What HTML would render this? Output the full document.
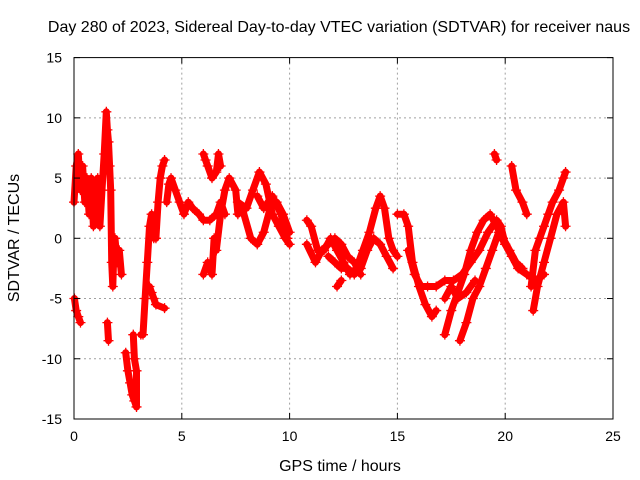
<!DOCTYPE html>
<html><head><meta charset="utf-8"><style>
body{margin:0;background:#fff;}
svg{display:block;font-family:"Liberation Sans",sans-serif;}
</style></head><body>
<svg id="chart" width="640" height="480">
<text x="339" y="32" font-size="16" text-anchor="middle">Day 280 of 2023, Sidereal Day-to-day VTEC variation (SDTVAR) for receiver naus</text>
<text x="340" y="471" font-size="16" text-anchor="middle">GPS time / hours</text>
<text transform="translate(19,238) rotate(-90)" font-size="16" text-anchor="middle">SDTVAR / TECUs</text>
<g id="grid"></g><g id="marks"></g><g id="axes"></g>
</svg>
<script>
const xTicks=[0,5,10,15,20,25];
const yTicks=[-15,-10,-5,0,5,10,15];
const traceHours=[
 [0,0.1,0.2,0.3,0.4,0.5,0.6,0.7,0.8,0.9,1.0,1.1,1.2,1.3,1.4,1.5,1.55,1.6,1.65,1.7,1.75,1.8,1.85,1.9,2.0,2.1,2.2],
 [0.02,0.1,0.2,0.3],
 [1.55,1.6],
 [2.4,2.5,2.6,2.7,2.8,2.9,2.9,2.8,2.75],
 [3.1,3.2,3.3,3.4,3.5,3.6,3.7,3.8,3.9,4.0,4.1,4.2],
 [3.5,3.6,3.7,3.8,4.2],
 [4.3,4.4,4.5,4.7,4.9,5.1,5.3,5.5,5.8,6.0,6.3,6.6,6.8,7.0],
 [6.0,6.1,6.2,6.4,6.6,6.7,6.8],
 [6.0,6.2,6.4,6.5,6.6,6.8,7.0,7.2,7.5,7.6],
 [7.6,8.0,8.3,8.6,8.9,9.2,9.5,9.8,10.0],
 [7.8,8.2,8.5,8.8,9.1,9.4,9.7,10.0],
 [8.5,8.8,9.2,9.6,9.9],
 [10.8,11.0,11.3,11.6,11.9,12.2,12.5,12.8,13.1,13.4,13.7,14.0,14.2,14.4,14.6,14.8,15.0],
 [11.8,12.1,12.4,12.7,13.0,13.3,13.6,13.9,14.2,14.5,14.8],
 [10.8,11.2,11.5,11.8,12.1,12.4,12.7,13.0,13.3],
 [12.2,12.4],
 [15.0,15.3,15.5,15.7,16.0,16.3,16.6,16.8],
 [15.5,15.8,16.1,16.4,16.8,17.2,17.6,18.0,18.4,18.8,19.2,19.6,19.8,20.0],
 [17.2,17.5,17.8,18.1,18.4,18.7,19.0,19.3,19.6,19.9,20.2,20.5,20.8],
 [17.9,18.2,18.5,18.8,19.1,19.4,19.7,20.0,20.3,20.6,21.0,21.4,21.8],
 [17.2,17.5,17.8,18.2,18.6],
 [19.5,19.6],
 [20.3,20.5,20.8,21.0],
 [21.2,21.4,21.6,21.8,22.0,22.2,22.5,22.7,22.8],
 [21.3,21.5,21.8,22.1,22.4,22.7,22.8]
];
const traceValues=[
 [3,6,7,4,6,3,5,2,5,1,3,5,1,4,7,10.5,9,8,6,4,-2,-4,-1,0,-2,-1,-3],
 [-5,-6,-6.5,-7],
 [-7,-8.5],
 [-9.5,-11,-12,-13,-13.5,-14,-11,-10,-8],
 [-8,-8,-5,-2,1,2,0,0,3,5,6,6.5],
 [-4,-4.5,-5,-5.5,-5.8],
 [3,4.5,5,4,3,2,3,2.5,2,1.5,1.5,2,3,2],
 [7,6.5,6,5,5.5,7,6],
 [-3,-2,-3,0,-1,2,4,5,4,2],
 [3,2.5,4,5.5,4.5,2,1,0,-0.5],
 [2.5,0,-0.5,0.5,2.5,3,2,0.5],
 [3.5,2.5,3.5,2,0],
 [1.5,1,-1,-1,0,-1,-2,-3,-2.5,-1,0.5,2.5,3.5,2.5,0,-1,-1.5],
 [-1.5,-2,-2.5,-2.5,-3,-2.5,-1,0,-0.5,-1.5,-2.5],
 [-0.5,-2,-1,-0.5,0,-0.5,-1.5,-2,-3],
 [-4,-3.5],
 [2,2,1,-2,-4,-5.5,-6.5,-6],
 [-1,-3,-4,-4,-4,-3.5,-3.5,-3,-2,-1,0.5,1.5,1,-0.5],
 [-8,-6,-4.5,-3,-1,0.5,1.5,2,1,0,-1,-2,-2.5],
 [-8.5,-7,-5,-4,-2.5,-1,0.5,-0.5,-1.5,-2.5,-3,-3.5,-3],
 [-5,-4,-5,-4.5,-3.5],
 [7,6.5],
 [6,4,3,2],
 [-4,-1,0,1,2,3,4,5,5.5],
 [-6,-4,-2,0,2,3,1]
];
const L=74,R=613,T=57.6,B=419;
const xS=h=>L+h*(R-L)/25;
const yS=v=>238.3-v*(B-T)/30;
const NS="http://www.w3.org/2000/svg";
const grid=document.getElementById('grid'),marks=document.getElementById('marks'),axes=document.getElementById('axes');
function mk(tag,attrs,parent){const e=document.createElementNS(NS,tag);for(const k in attrs)e.setAttribute(k,attrs[k]);parent.appendChild(e);return e;}
xTicks.forEach(t=>{
 const x=xS(t);
 if(t>0&&t<25){const g=mk('line',{x1:x,x2:x,y1:T,y2:B,stroke:'#a0a0a0','stroke-dasharray':'2,3'},grid);
 
 }
 mk('line',{x1:x,x2:x,y1:B,y2:B-6,stroke:'#000'},axes);
 mk('line',{x1:x,x2:x,y1:T,y2:T+6,stroke:'#000'},axes);
 const tx=mk('text',{x:x,y:B+22,'font-size':14,'text-anchor':'middle'},axes);tx.textContent=t;
 
 
});
yTicks.forEach(t=>{
 const y=yS(t);
 if(t>-15&&t<15){const g=mk('line',{x1:L,x2:R,y1:y,y2:y,stroke:'#a0a0a0','stroke-dasharray':'2,3'},grid);
 
 }
 mk('line',{x1:L,x2:L+6,y1:y,y2:y,stroke:'#000'},axes);
 mk('line',{x1:R,x2:R-6,y1:y,y2:y,stroke:'#000'},axes);
 const tx=mk('text',{x:L-12,y:y+5,'font-size':14,'text-anchor':'end'},axes);tx.textContent=t;
 
 
});
const border=mk('rect',{x:L,y:T,width:R-L,height:B-T,fill:'none',stroke:'#000'},axes);


traceHours.forEach((hs,i)=>{
 const vs=traceValues[i];
 const d=hs.map((h,j)=>(j?'L':'M')+xS(h).toFixed(1)+','+yS(vs[j]).toFixed(1)).join('');
 const p=mk('path',{d:d,fill:'none',stroke:'#f00','stroke-width':7,'stroke-linejoin':'round','stroke-linecap':'round'},marks);
 
 
 hs.forEach((h,j)=>{
  const x=xS(h),y=yS(vs[j]);
  const m=mk('path',{d:`M${x-5},${y}h10M${x},${y-5}v10`,stroke:'#f00','stroke-width':1.3},marks);
  
  
 });
});
</script>
</body></html>
